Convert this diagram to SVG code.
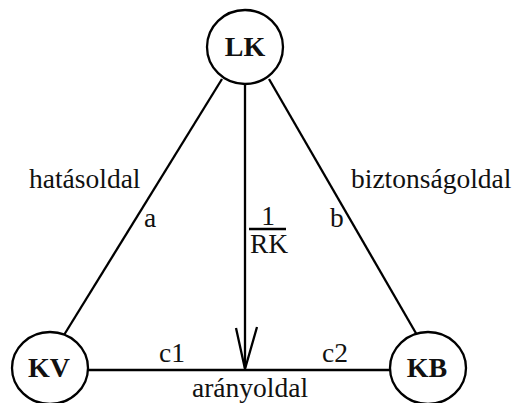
<svg xmlns="http://www.w3.org/2000/svg" width="514" height="403" viewBox="0 0 514 403">
<style>
.n{fill:#fff;stroke:#000;stroke-width:2.3}
.l{fill:none;stroke:#000;stroke-width:2.3}
.t{font-size:27.5px}
.b{font-size:28px;font-weight:bold;text-anchor:middle}
</style>
<rect width="514" height="403" fill="#fff"/>
<g id="connectors">
<line class="l" x1="222" y1="79" x2="64" y2="335"/>
<line class="l" x1="269" y1="79" x2="417" y2="335"/>
<line class="l" x1="88" y1="370" x2="390" y2="370"/>
<line class="l" x1="245" y1="85" x2="245" y2="368"/>
<polyline class="l" points="236,328 245,369 257,327"/>
<line class="l" x1="249" y1="229" x2="286" y2="229"/>
</g>
<g font-family="Liberation Serif, Times New Roman, serif" fill="#111">
<g id="LK"><ellipse class="n" cx="245" cy="47" rx="38" ry="37"/><text class="b" x="245" y="56">LK</text></g>
<g id="KV"><ellipse class="n" cx="50" cy="368" rx="38" ry="36"/><text class="b" x="49" y="377">KV</text></g>
<g id="KB"><ellipse class="n" cx="428" cy="368" rx="38" ry="36"/><text class="b" x="427" y="377">KB</text></g>
<g id="labels">
<text class="t" x="29" y="188">hatásoldal</text>
<text class="t" x="144" y="227">a</text>
<text class="t" x="351" y="188">biztonságoldal</text>
<text class="t" x="330" y="227">b</text>
<text class="t" x="268" y="225" text-anchor="middle">1</text>
<text class="t" x="269" y="253" text-anchor="middle">RK</text>
<text class="t" x="159" y="362">c1</text>
<text class="t" x="322" y="362">c2</text>
<text class="t" x="192" y="397">arányoldal</text>
</g>
</g>
</svg>
